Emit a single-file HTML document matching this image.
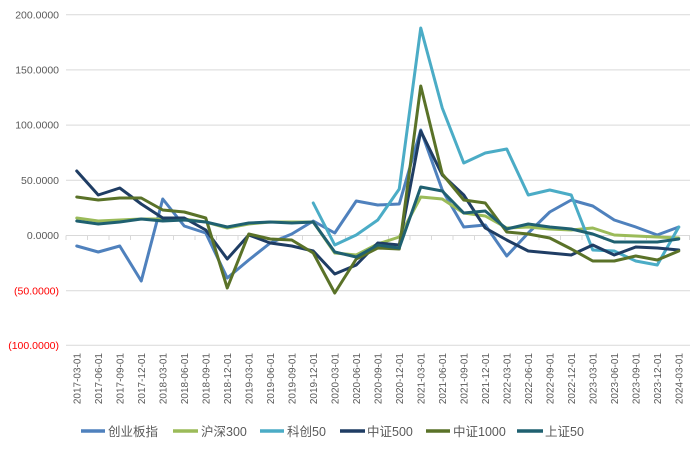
<!DOCTYPE html>
<html><head><meta charset="utf-8"><style>
html,body{margin:0;padding:0;background:#fff;}
svg{display:block;font-family:"Liberation Sans","Noto Sans CJK SC",sans-serif;}
</style></head><body>
<svg width="698" height="450" viewBox="0 0 698 450">
<rect width="698" height="450" fill="#fff"/>
<g stroke="#d9d9d9" stroke-width="1">
<line x1="66" x2="690" y1="14.7" y2="14.7"/>
<line x1="66" x2="690" y1="69.9" y2="69.9"/>
<line x1="66" x2="690" y1="125.1" y2="125.1"/>
<line x1="66" x2="690" y1="180.3" y2="180.3"/>
<line x1="66" x2="690" y1="290.7" y2="290.7"/>
<line x1="66" x2="690" y1="345.3" y2="345.3"/>
<line x1="66" x2="690" y1="235.5" y2="235.5"/>
</g>
<g stroke="#d9d9d9" stroke-width="1" id="ticks"></g>
<g font-size="10.5" text-anchor="end" fill="#595959">
<text x="59" y="18.5">200.0000</text>
<text x="59" y="73.5">150.0000</text>
<text x="59" y="128.5">100.0000</text>
<text x="59" y="184">50.0000</text>
<text x="59" y="239">0.0000</text>
<text x="59" y="294.5" fill="#ff0000">(50.0000)</text>
<text x="59" y="349" fill="#ff0000">(100.0000)</text>
</g>
<g id="xl" font-size="10" fill="#595959" text-anchor="end"></g>
<g fill="none" stroke-width="3" stroke-linejoin="round" stroke-linecap="round">
<polyline id="s1" stroke="#4f81bd"/>
<polyline id="s2" stroke="#9bbb59"/>
<polyline id="s3" stroke="#4bacc6"/>
<polyline id="s4" stroke="#1f3d64"/>
<polyline id="s5" stroke="#5a7228"/>
<polyline id="s6" stroke="#1f6070"/>
</g>
<g stroke-width="3.5">
<line x1="81" x2="105" y1="431" y2="431" stroke="#4f81bd"/>
<line x1="173" x2="198" y1="431" y2="431" stroke="#9bbb59"/>
<line x1="260" x2="284" y1="431" y2="431" stroke="#4bacc6"/>
<line x1="340" x2="365" y1="431" y2="431" stroke="#1f3d64"/>
<line x1="426" x2="450" y1="431" y2="431" stroke="#5a7228"/>
<line x1="517" x2="543" y1="431" y2="431" stroke="#1f6070"/>
</g>
<g font-size="12.5" fill="#595959">
<text x="108" y="436">创业板指</text>
<text x="201" y="436">沪深300</text>
<text x="287" y="436">科创50</text>
<text x="367" y="436">中证500</text>
<text x="453" y="436">中证1000</text>
<text x="545" y="436">上证50</text>
</g>
</svg>
<script>
var X=function(i){return 76.75+21.5*i;};
var d={
s1:[246,252,246,281,199,226,233,278,260,243,234,221,233,201,205,204,130,190,227,225,256,233,212,200,206,220,227,235,227],
s2:[218,221,220,219,219,219,222,228,224,222,222,222,253,255,244,237,197,199,213,216,228,227,229,230,228,235,236,237,238],
s4:[171,195,188,204,218,218,230,259,235,243,246,251,274,265,243,245,131,175,195,228,240,251,253,255,245,255,247,248,250],
s5:[197,200,198,198,210,212,218,288,234,239,240,253,293,259,248,249,86,174,200,203,232,234,238,249,261,261,256,260,251],
s6:[221,224,222,219,221,220,222,227,223,222,223,222,252,257,245,248,187,191,213,211,229,224,227,229,234,242,242,242,239]
};
for(var k in d){document.getElementById(k).setAttribute('points',d[k].map(function(y,i){return X(i)+','+y;}).join(' '));}
var s3=[203,245,235,220,189,28,108,163,153,149,195,190,195,250,251,261,265,227];
document.getElementById('s3').setAttribute('points',s3.map(function(y,i){return X(i+11)+','+y;}).join(' '));
var xl=document.getElementById('xl'),tk=document.getElementById('ticks'),ns='http://www.w3.org/2000/svg';
var y=2017,m=3;
for(var i=0;i<29;i++){
 var t=document.createElementNS(ns,'text');var x=X(i)+3.5;
 t.setAttribute('transform','translate('+x+',353) rotate(-90)');
 t.textContent=y+'-'+(m<10?'0':'')+m+'-01';xl.appendChild(t);
 m+=3;if(m>12){m=3;y++;}
}
for(var i=0;i<=29;i++){var l=document.createElementNS(ns,'line');var x=66+21.5*i;l.setAttribute('x1',x);l.setAttribute('x2',x);l.setAttribute('y1',235.5);l.setAttribute('y2',240);tk.appendChild(l);}
</script>
</body></html>
